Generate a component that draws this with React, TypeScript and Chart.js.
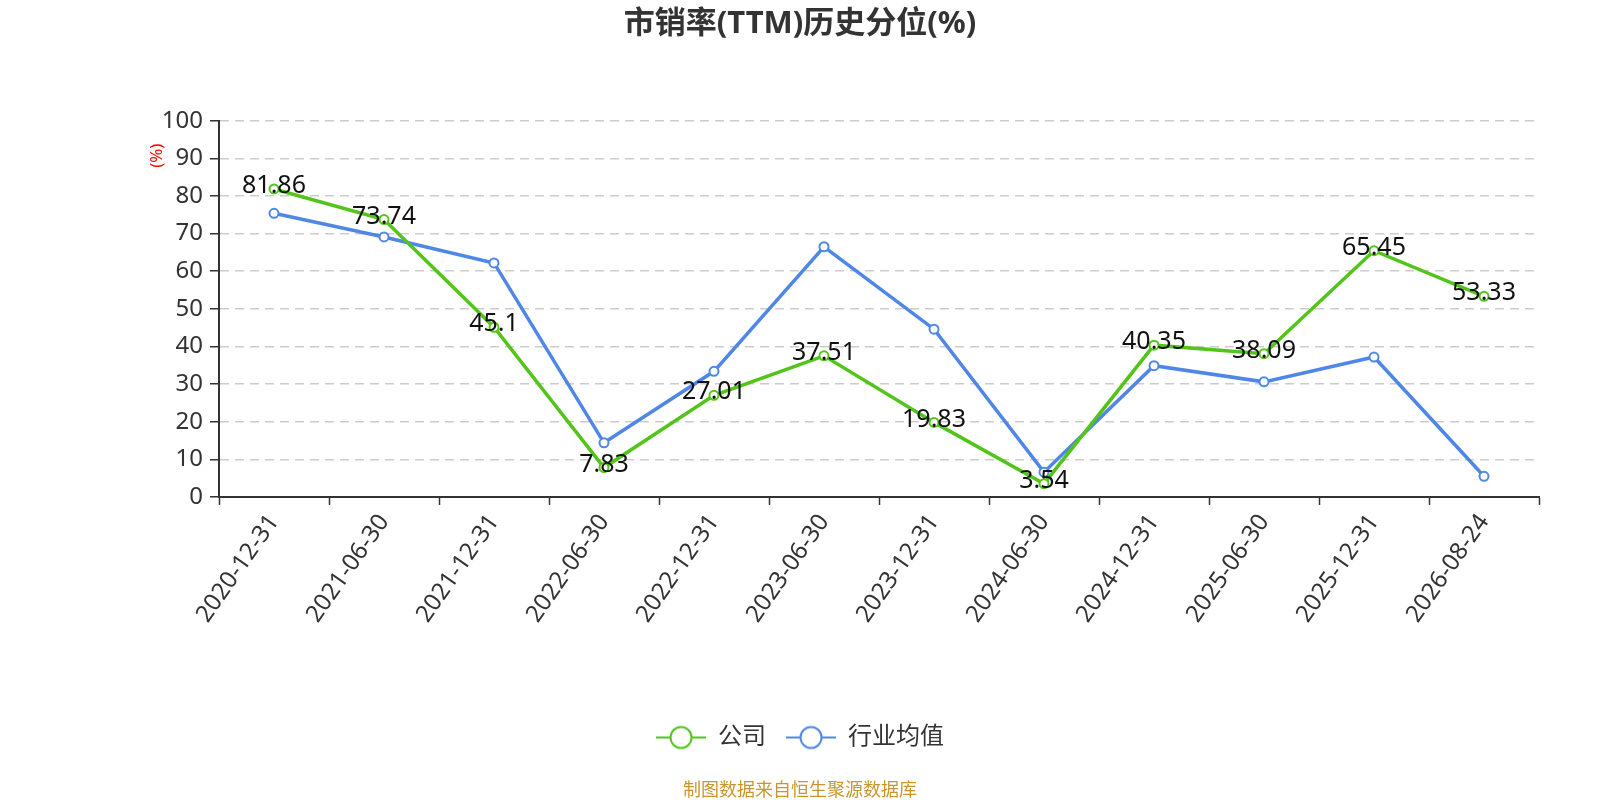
import React, { useEffect, useRef } from 'react';
import Chart from 'chart.js/auto';

const categories = [
  '2020-12-31',
  '2021-06-30',
  '2021-12-31',
  '2022-06-30',
  '2022-12-31',
  '2023-06-30',
  '2023-12-31',
  '2024-06-30',
  '2024-12-31',
  '2025-06-30',
  '2025-12-31',
  '2026-08-24',
];

// 公司
const companyValues = [81.86, 73.74, 45.1, 7.83, 27.01, 37.51, 19.83, 3.54, 40.35, 38.09, 65.45, 53.33];
// 行业均值
const industryValues = [75.4, 69.1, 62.2, 14.4, 33.4, 66.5, 44.6, 6.6, 34.9, 30.6, 37.2, 5.5];

const seriesNames = ['公司', '行业均值'];
const seriesColors = ['#52c41a', '#4f87e6'];

const FONT = "'Noto Sans', 'Noto Sans CJK SC', sans-serif";

// legend symbol: short line with a hollow circle on it
function makeLegendSymbol(color: string) {
  const c = document.createElement('canvas');
  c.width = 50;
  c.height = 26;
  const g = c.getContext('2d')!;
  g.strokeStyle = color;
  g.lineWidth = 2;
  g.beginPath();
  g.moveTo(0, 13);
  g.lineTo(50, 13);
  g.stroke();
  g.beginPath();
  g.arc(25, 13, 10.5, 0, Math.PI * 2);
  g.fillStyle = '#fff';
  g.fill();
  g.stroke();
  return c;
}

const extrasPlugin = {
  id: 'extras',
  afterDatasetsDraw(chart: any) {
    const meta = chart.getDatasetMeta(0);
    const ctx = chart.ctx;
    ctx.save();
    ctx.font = `25px ${FONT}`;
    ctx.fillStyle = '#111';
    ctx.textAlign = 'center';
    ctx.textBaseline = 'middle';
    meta.data.forEach((pt: any, i: number) => {
      ctx.fillText(String(companyValues[i]), pt.x, pt.y - 3);
    });
    ctx.restore();
  },
  afterDraw(chart: any) {
    const { ctx, chartArea } = chart;
    ctx.save();
    ctx.translate(chartArea.left - 62, chartArea.top + 35);
    ctx.rotate(-Math.PI / 2);
    ctx.font = `17px ${FONT}`;
    ctx.fillStyle = '#ff0000';
    ctx.textAlign = 'center';
    ctx.textBaseline = 'middle';
    ctx.fillText('(%)', 0, 0);
    ctx.restore();
  },
};

const App: React.FC = () => {
  const chartRef = useRef<HTMLCanvasElement | null>(null);
  const chartInstance = useRef<Chart | null>(null);

  useEffect(() => {
    document.body.style.margin = '0';
    if (!chartRef.current) return;
    if (chartInstance.current) chartInstance.current.destroy();

    const symbols = seriesColors.map(makeLegendSymbol);

    chartInstance.current = new Chart(chartRef.current, {
      type: 'line',
      data: {
        labels: categories,
        datasets: [
          {
            label: seriesNames[0],
            data: companyValues,
            borderColor: seriesColors[0],
            backgroundColor: '#fff',
            borderWidth: 3.5,
            pointRadius: 4.5,
            pointBorderWidth: 2,
            pointBackgroundColor: '#fff',
            pointBorderColor: seriesColors[0],
            tension: 0,
          },
          {
            label: seriesNames[1],
            data: industryValues,
            borderColor: seriesColors[1],
            backgroundColor: '#fff',
            borderWidth: 3.5,
            pointRadius: 4.5,
            pointBorderWidth: 2,
            pointBackgroundColor: '#fff',
            pointBorderColor: seriesColors[1],
            tension: 0,
          },
        ],
      },
      options: {
        animation: false,
        responsive: true,
        maintainAspectRatio: false,
        layout: { padding: 0 },
        plugins: {
          title: {
            display: true,
            text: '市销率(TTM)历史分位(%)',
            color: '#333',
            font: { size: 31, weight: 'bold', family: FONT },
            padding: { top: 6, bottom: 77.5 },
          },
          subtitle: {
            display: true,
            position: 'bottom',
            text: '制图数据来自恒生聚源数据库',
            color: '#c9962c',
            font: { size: 18, family: FONT },
            padding: { top: 20.9, bottom: -2 },
          },
          legend: {
            position: 'bottom',
            labels: {
              usePointStyle: true,
              pointStyleWidth: 50,
              boxHeight: 24,
              padding: 20,
              color: '#333',
              font: { size: 24, family: FONT },
              generateLabels: (chart: any) =>
                Chart.defaults.plugins.legend.labels
                  .generateLabels(chart)
                  .map((item: any, i: number) => ({ ...item, pointStyle: symbols[i] })),
            },
          },
          tooltip: { enabled: false },
        },
        scales: {
          x: {
            offset: true,
            afterFit: (scale: any) => {
              scale.height = 208.5;
            },
            grid: {
              offset: true,
              drawOnChartArea: false,
              tickLength: 8,
              tickColor: '#333',
              tickWidth: 1.5,
            },
            border: { color: '#333', width: 2 },
            ticks: {
              autoSkip: false,
              minRotation: 55,
              maxRotation: 55,
              padding: 4,
              color: '#333',
              font: { size: 24, family: FONT },
            },
          },
          y: {
            min: 0,
            max: 100,
            afterFit: (scale: any) => {
              scale.width = 219;
            },
            grid: {
              color: (c: any) => (c.tick && c.tick.value === 0 ? 'transparent' : '#cccccc'),
              lineWidth: 1.5,
              tickLength: 9,
              tickColor: '#333',
              tickWidth: 1.5,
            },
            border: { color: '#333', width: 2, dash: [9, 6] },
            ticks: {
              stepSize: 10,
              padding: 7,
              color: '#333',
              font: { size: 24, family: FONT },
            },
          },
          // empty right-hand axis, only to hold the right margin
          y2: {
            position: 'right',
            min: 0,
            max: 100,
            afterFit: (scale: any) => {
              scale.width = 61;
            },
            grid: { display: false },
            border: { display: false },
            ticks: { display: false },
          },
        },
      },
      plugins: [extrasPlugin],
    } as any);

    return () => {
      if (chartInstance.current) {
        chartInstance.current.destroy();
        chartInstance.current = null;
      }
    };
  }, []);

  return (
    <div style={{ width: 1600, height: 800, position: 'relative' }}>
      <canvas ref={chartRef}></canvas>
    </div>
  );
};

export default App;
